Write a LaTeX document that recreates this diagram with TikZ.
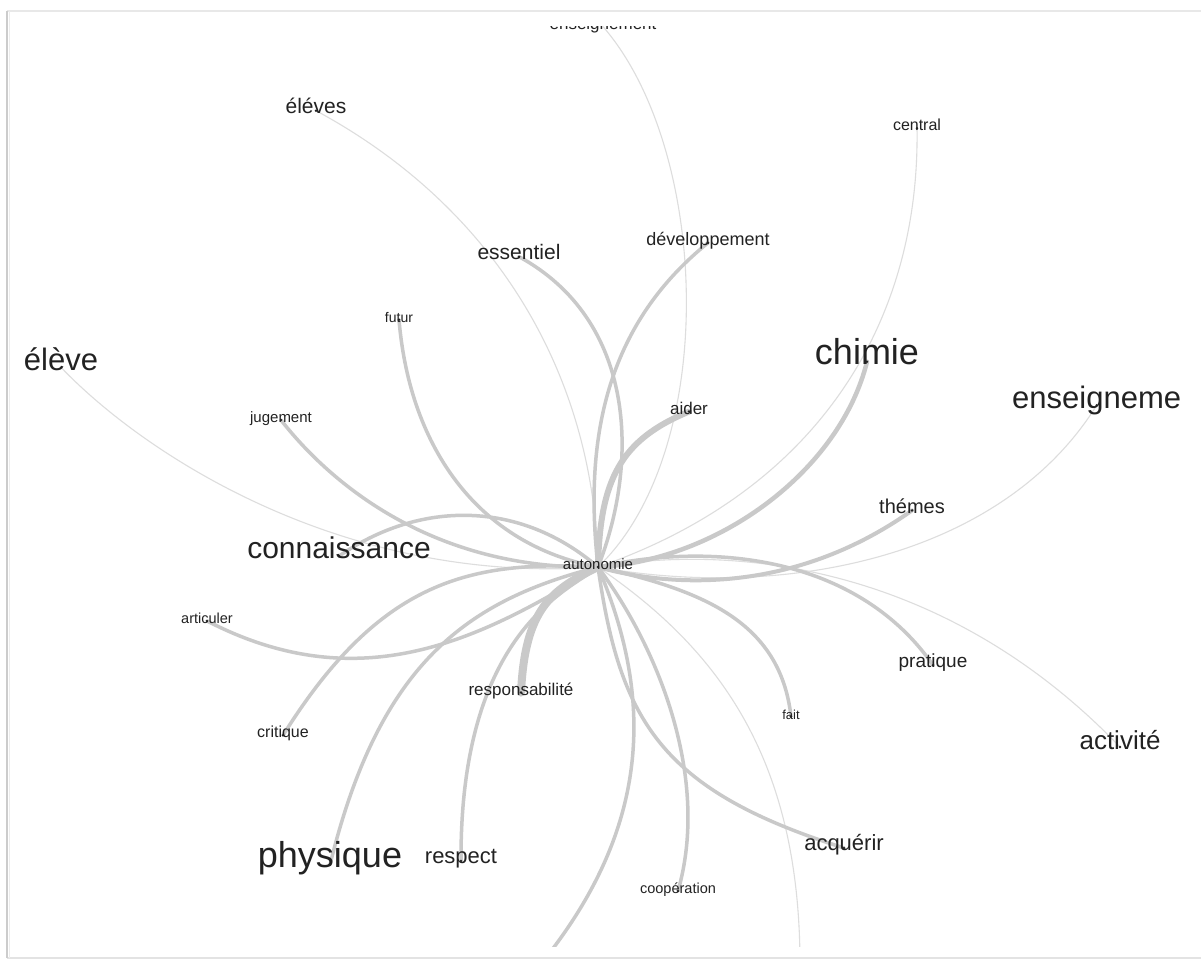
\documentclass[tikz,border=0pt]{standalone}
\usepackage{fontspec}
\setmainfont{Liberation Sans}
\pgfdeclarelayer{paper}
\pgfdeclarelayer{edges}
\pgfsetlayers{paper,edges,main}
\definecolor{linkc}{HTML}{C9C9C9}
\definecolor{faintc}{HTML}{DDDDDD}
\definecolor{wordc}{HTML}{222222}
\tikzset{
  word/.style={anchor=mid, inner sep=0pt, yshift=-0.27*#1, text=wordc, font=\fontsize{#1}{#1}\selectfont},
  link/.style={draw=linkc, line width=#1, line cap=round},
  faint/.style={draw=faintc, line width=1.1pt},
}
\begin{document}
\begin{tikzpicture}[x=1pt,y=-1pt]
\useasboundingbox (0,0) rectangle (1201,962);
\begin{pgfonlayer}{paper}
  \fill[white] (0,0) rectangle (1201,962);
\end{pgfonlayer}

% hub word
\node[word=15] (aut) at (598,563) {autonomie};

% words
\begin{scope}
  \clip (0,26.5) rectangle (1201,962);
  \node[word=17] (ensT) at (603,22) {enseignement};
\end{scope}
\node[word=21] (eleves) at (316,105) {éléves};
\node[word=16] (central) at (917,124) {central};
\node[word=21] (essentiel) at (519,251) {essentiel};
\node[word=18] (dev) at (708,238) {développement};
\node[word=14] (futur) at (399,316) {futur};
\node[word=31] (eleve) at (61,359) {élève};
\node[word=36] (chimie) at (867,352) {chimie};
\node[word=31,anchor=mid west] (ensR) at (1012,397) {enseigneme};
\node[word=17] (aider) at (689,407) {aider};
\node[word=15] (jug) at (281,416) {jugement};
\node[word=30] (conn) at (339,548) {connaissance};
\node[word=20] (themes) at (912,505) {thémes};
\node[word=14.5] (artic) at (207,617) {articuler};
\node[word=19] (prat) at (933,660) {pratique};
\node[word=17] (resp) at (521,688) {responsabilité};
\node[word=13] (fait) at (791,713) {fait};
\node[word=16] (crit) at (283,731) {critique};
\node[word=26] (activ) at (1120,740) {activité};
\node[word=36] (phys) at (330,855) {physique};
\node[word=22] (respect) at (461,855) {respect};
\node[word=22] (acq) at (844,842) {acquérir};
\node[word=14.5] (coop) at (678,887) {coopération};
\coordinate (offA) at (540,965);
\coordinate (offB) at (800,965);

% links from the hub
\begin{pgfonlayer}{edges}
\begin{scope}
  \clip (10,26.5) rectangle (1190,946);
  % faint links
  \draw[faint] (aut.mid) .. controls (720,450) and (710,150) .. (ensT.mid);
  \draw[faint] (aut.mid) .. controls (595,380) and (500,210) .. (eleves.mid);
  \draw[faint] (aut.mid) .. controls (820,490) and (920,320) .. (central.mid);
  \draw[faint] (aut.mid) .. controls (350,585) and (150,460) .. (eleve.mid);
  \draw[faint] (aut.mid) .. controls (780,600) and (1000,560) .. (ensR.mid);
  \draw[faint] (aut.mid) .. controls (760,540) and (960,580) .. (activ.mid);
  \draw[faint] (aut.mid) .. controls (720,650) and (800,760) .. (offB);
  % regular links
  \draw[link=3.5] (aut.mid) .. controls (640,460) and (635,320) .. (essentiel.mid);
  \draw[link=3.5] (aut.mid) .. controls (585,450) and (600,330) .. (dev.mid);
  \draw[link=3.5] (aut.mid) .. controls (480,545) and (410,450) .. (futur.mid);
  \draw[link=3.5] (aut.mid) .. controls (420,570) and (320,470) .. (jug.mid);
  \draw[link=3.5] (aut.mid) .. controls (520,500) and (420,500) .. (conn.mid);
  \draw[link=4.5] (aut.mid) .. controls (720,560) and (840,470) .. (chimie.mid);
  \draw[link=4] (aut.mid) .. controls (680,590) and (800,590) .. (themes.mid);
  \draw[link=3.5] (aut.mid) .. controls (720,540) and (860,560) .. (prat.mid);
  \draw[link=3.5] (aut.mid) .. controls (700,590) and (780,620) .. (fait.mid);
  \draw[link=3.5] (aut.mid) .. controls (620,720) and (660,790) .. (acq.mid);
  \draw[link=3.5] (aut.mid) .. controls (660,650) and (710,780) .. (coop.mid);
  \draw[link=3.5] (aut.mid) .. controls (655,700) and (650,830) .. (offA);
  \draw[link=3.5] (aut.mid) .. controls (570,590) and (460,630) .. (respect.mid);
  \draw[link=3.5] (aut.mid) .. controls (470,600) and (380,660) .. (phys.mid);
  \draw[link=3.5] (aut.mid) .. controls (470,560) and (380,580) .. (crit.mid);
  \draw[link=3.5] (aut.mid) .. controls (480,640) and (360,700) .. (artic.mid);
  % heavy links
  \draw[link=6] (aut.mid) .. controls (600,480) and (620,440) .. (aider.mid);
  \draw[link=8] (aut.mid) .. controls (550,590) and (525,610) .. (resp.mid);
\end{scope}
\end{pgfonlayer}

% end marks on the words
\foreach \w in {aut,eleves,central,essentiel,dev,futur,chimie,ensR,aider,jug,conn,themes,artic,prat,resp,fait,crit,activ,phys,respect,acq,coop}
  \fill[wordc] (\w.mid) circle (1.4);

% page frame
\draw[gray!18, line width=1.2] (7,11) -- (1201,11);
\draw[gray!22, line width=1.2] (7,958) -- (1201,958);
\draw[gray!40, line width=2.5] (7,11) -- (7,958);
\draw[gray!15, line width=1.5] (9.5,11) -- (9.5,958);
\end{tikzpicture}
\end{document}
